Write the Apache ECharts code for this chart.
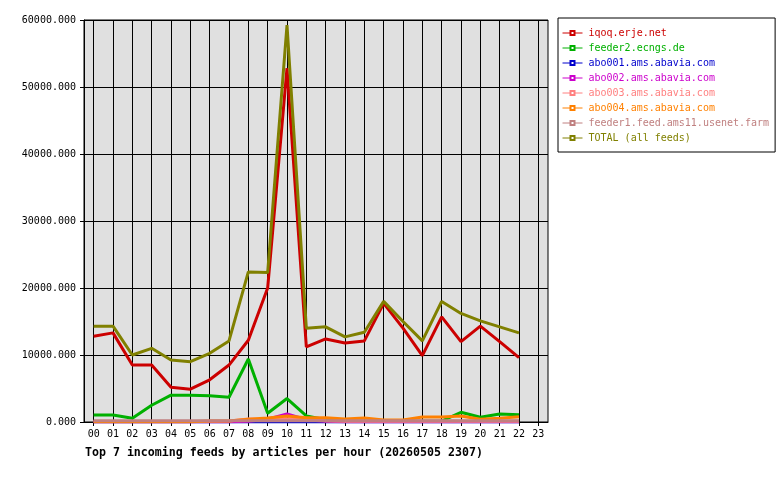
<!DOCTYPE html>
<html>
<head>
<meta charset="utf-8">
<script src="https://cdn.jsdelivr.net/npm/echarts@6/dist/echarts.min.js"></script>
<style>
html, body { margin: 0; padding: 0; background: #fff; }
#main { width: 780px; height: 480px; }
</style>
</head>
<body>
<div id="main"></div>
<script>
var hours = ['00','01','02','03','04','05','06','07','08','09','10','11',
             '12','13','14','15','16','17','18','19','20','21','22','23'];

var feedNames = ['iqoq.erje.net', 'feeder2.ecngs.de', 'abo001.ams.abavia.com',
                 'abo002.ams.abavia.com', 'abo003.ams.abavia.com', 'abo004.ams.abavia.com',
                 'feeder1.feed.ams11.usenet.farm', 'TOTAL (all feeds)'];
var feedColors = ['#cc0000', '#00b000', '#0000cc', '#cc00cc', '#ff8080', '#ff8000', '#c08080', '#808000'];

var iqoq    = [12800, 13300, 8500, 8500, 5200, 4900, 6300, 8500, 12200, 20000, 52800, 11200,
               12400, 11800, 12100, 17700, 14000, 9900, 15700, 12000, 14300, 12000, 9600];
var feeder2 = [1050, 1050, 550, 2500, 4000, 4000, 3900, 3700, 9400, 1300, 3500, 900,
               350, 150, 100, 100, 100, 100, 150, 1450, 700, 1200, 1100];
var abo001  = [0, 0, 0, 0, 0, 0, 0, 0, 0, 0, 0, 0, 0, 0, 0, 0, 0, 0, 0, 0, 0, 0, 0];
var abo002  = [50, 50, 50, 50, 50, 50, 50, 50, 100, 400, 1200, 350,
               100, 50, 50, 50, 50, 50, 50, 50, 50, 50, 50];
var abo003  = [50, 50, 50, 50, 50, 50, 100, 150, 450, 400, 500, 400,
               200, 100, 100, 100, 100, 100, 100, 100, 100, 100, 100];
var abo004  = [50, 50, 50, 50, 50, 50, 150, 150, 400, 600, 900, 650,
               650, 450, 600, 300, 300, 750, 750, 900, 400, 550, 800];
var feeder1 = [200, 200, 200, 200, 200, 200, 200, 200, 200, 200, 200, 200,
               200, 200, 200, 200, 200, 200, 200, 200, 200, 200, 200];
var total   = [14300, 14300, 10000, 11000, 9250, 9000, 10250, 12100, 22400, 22300, 59250, 14000,
               14200, 12700, 13400, 18000, 15000, 12100, 18000, 16200, 15100, 14200, 13300];

var feedValues = [iqoq, feeder2, abo001, abo002, abo003, abo004, feeder1, total];

var mono = 'DejaVu Sans Mono';
var myChart = echarts.init(document.getElementById('main'));

var series = [];
var legendData = [];
for (var i = 0; i < feedNames.length; i++) {
    series.push({
        name: feedNames[i],
        type: 'line',
        data: feedValues[i],
        symbol: 'emptyRect',
        symbolSize: 4,
        showSymbol: false,
        color: feedColors[i],
        lineStyle: { width: 3, color: feedColors[i] },
        emphasis: { disabled: true }
    });
    legendData.push({ name: feedNames[i], textStyle: { color: feedColors[i] } });
}

option = {
    animation: false,
    title: {
        text: 'Top 7 incoming feeds by articles per hour (20260505 2307)',
        left: 80,
        top: 442,
        textStyle: { fontFamily: mono, fontSize: 11.6, fontWeight: 'bold', color: '#000' }
    },
    legend: {
        orient: 'vertical',
        left: 558,
        top: 18,
        data: legendData,
        itemWidth: 20,
        itemHeight: 5,
        itemGap: 5,
        padding: [10, 6, 9, 4],
        backgroundColor: '#fff',
        borderColor: '#000',
        borderWidth: 1,
        borderRadius: 0,
        selectedMode: false,
        textStyle: { fontFamily: mono, fontSize: 10, lineHeight: 10, padding: [0, 0, 0, 1] },
        lineStyle: { width: 1 }
    },
    grid: {
        left: 84,
        top: 20,
        width: 464,
        height: 402,
        show: true,
        backgroundColor: '#e0e0e0',
        borderColor: '#000',
        borderWidth: 1
    },
    xAxis: {
        type: 'category',
        data: hours,
        boundaryGap: true,
        axisLine: { lineStyle: { color: '#000', width: 1 } },
        axisTick: { show: true, alignWithLabel: true, length: 4, lineStyle: { color: '#000' } },
        splitLine: { show: true, alignWithLabel: true, lineStyle: { color: '#000', width: 1 } },
        axisLabel: { fontFamily: mono, fontSize: 10, color: '#000', margin: 7, interval: 0 }
    },
    yAxis: {
        type: 'value',
        min: 0,
        max: 60000,
        interval: 10000,
        axisLine: { show: true, lineStyle: { color: '#000', width: 1 } },
        axisTick: { show: true, length: 4, lineStyle: { color: '#000' } },
        splitLine: { show: true, lineStyle: { color: '#000', width: 1 } },
        axisLabel: {
            fontFamily: mono, fontSize: 10, color: '#000', margin: 8,
            formatter: function (v) { return v.toFixed(3); }
        }
    },
    series: series
};

myChart.setOption(option);
</script>
</body>
</html>
